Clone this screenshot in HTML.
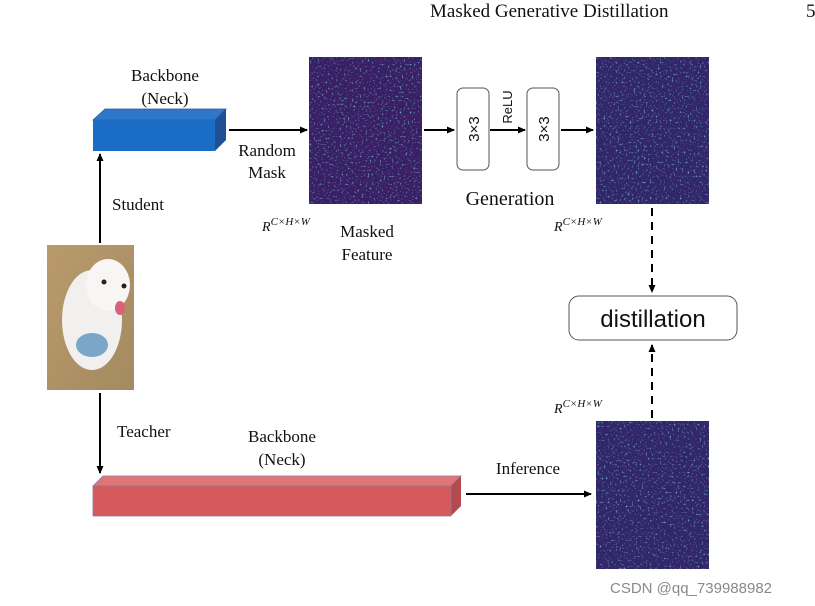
<!DOCTYPE html>
<html><head><meta charset="utf-8"><style>
html,body{margin:0;padding:0;background:#fff;width:815px;height:606px;overflow:hidden}
svg{display:block}
.s{font-family:"Liberation Serif",serif;fill:#111}
.a{font-family:"Liberation Sans",sans-serif;fill:#111}
</style></head><body>
<svg width="815" height="606" viewBox="0 0 815 606" xmlns="http://www.w3.org/2000/svg">
<defs>
<marker id="ah" markerWidth="8" markerHeight="8" refX="7" refY="4" orient="auto" markerUnits="userSpaceOnUse"><path d="M0,0.5 L8,4 L0,7.5 z" fill="#000"/></marker>
<filter id="noise" x="0" y="0" width="100%" height="100%">
<feTurbulence type="fractalNoise" baseFrequency="0.5" numOctaves="2" seed="3" result="t"/>
<feColorMatrix in="t" type="matrix" values="0 0 0 0 0.15  0 0 0 0 0.5  0 0 0 0 0.55  0 0 0 4 -2.4" result="c"/>
<feComposite in="c" in2="SourceGraphic" operator="in"/>
</filter>
<linearGradient id="dogbg" x1="0" y1="0" x2="1" y2="1"><stop offset="0" stop-color="#b89a6c"/><stop offset="1" stop-color="#a58a60"/></linearGradient>
</defs>
<text x="430" y="17" class="s" font-size="19" fill="#333">Masked Generative Distillation</text>
<text x="806" y="17" class="s" font-size="19" fill="#333">5</text>

<polygon points="93,120 105,109 226,109 215,120" fill="#2e78c9" stroke="#2a5a9a" stroke-width="0.8"/>
<polygon points="215,120 226,109 226,140 215,151" fill="#1f4f95"/>
<rect x="93" y="120" width="122" height="31" fill="#1b6cc4"/>
<text x="165" y="81" class="s" font-size="17" text-anchor="middle">Backbone</text>
<text x="165" y="104" class="s" font-size="17" text-anchor="middle">(Neck)</text>

<line x1="229" y1="130" x2="307" y2="130" stroke="#000" stroke-width="2" marker-end="url(#ah)"/>
<text x="267" y="156" class="s" font-size="17" text-anchor="middle">Random</text>
<text x="267" y="178" class="s" font-size="17" text-anchor="middle">Mask</text>

<rect x="309" y="57" width="113" height="147" fill="#3a1f66"/>
<rect x="309" y="57" width="113" height="147" fill="#fff" filter="url(#noise)"/>
<text x="262" y="231" class="s" font-size="14" font-style="italic">R<tspan dy="-6" font-size="11">C×H×W</tspan></text>
<text x="367" y="237" class="s" font-size="17" text-anchor="middle">Masked</text>
<text x="367" y="260" class="s" font-size="17" text-anchor="middle">Feature</text>

<line x1="424" y1="130" x2="454" y2="130" stroke="#000" stroke-width="2" marker-end="url(#ah)"/>
<rect x="457" y="88" width="32" height="82" rx="6" fill="#fff" stroke="#555" stroke-width="1"/>
<text transform="translate(479,129) rotate(-90)" class="a" font-size="15" text-anchor="middle">3×3</text>
<line x1="490" y1="130" x2="525" y2="130" stroke="#000" stroke-width="2" marker-end="url(#ah)"/>
<text transform="translate(512,107) rotate(-90)" class="a" font-size="13" text-anchor="middle">ReLU</text>
<rect x="527" y="88" width="32" height="82" rx="6" fill="#fff" stroke="#555" stroke-width="1"/>
<text transform="translate(549,129) rotate(-90)" class="a" font-size="15" text-anchor="middle">3×3</text>
<line x1="561" y1="130" x2="593" y2="130" stroke="#000" stroke-width="2" marker-end="url(#ah)"/>
<text x="510" y="205" class="s" font-size="20" text-anchor="middle">Generation</text>

<rect x="596" y="57" width="113" height="147" fill="#33256a"/>
<rect x="596" y="57" width="113" height="147" fill="#fff" filter="url(#noise)"/>
<text x="554" y="231" class="s" font-size="14" font-style="italic">R<tspan dy="-6" font-size="11">C×H×W</tspan></text>

<line x1="652" y1="208" x2="652" y2="292" stroke="#000" stroke-width="2" stroke-dasharray="8,6" marker-end="url(#ah)"/>
<rect x="569" y="296" width="168" height="44" rx="10" fill="#fff" stroke="#555" stroke-width="1"/>
<text x="653" y="327" class="a" font-size="24" text-anchor="middle">distillation</text>
<line x1="652" y1="418" x2="652" y2="345" stroke="#000" stroke-width="2" stroke-dasharray="8,6" marker-end="url(#ah)"/>
<text x="554" y="413" class="s" font-size="14" font-style="italic">R<tspan dy="-6" font-size="11">C×H×W</tspan></text>

<rect x="596" y="421" width="113" height="148" fill="#33256a"/>
<rect x="596" y="421" width="113" height="148" fill="#fff" filter="url(#noise)"/>

<rect x="47" y="245" width="87" height="145" fill="url(#dogbg)"/>
<ellipse cx="92" cy="320" rx="30" ry="50" fill="#f2f0ee"/>
<ellipse cx="108" cy="285" rx="22" ry="26" fill="#f7f6f4"/>
<ellipse cx="92" cy="345" rx="16" ry="12" fill="#7aa6c8"/>
<ellipse cx="120" cy="308" rx="5" ry="7" fill="#d8607a"/>
<circle cx="104" cy="282" r="2.5" fill="#222"/><circle cx="124" cy="286" r="2.5" fill="#222"/>

<line x1="100" y1="243" x2="100" y2="154" stroke="#000" stroke-width="2" marker-end="url(#ah)"/>
<text x="112" y="210" class="s" font-size="17">Student</text>
<line x1="100" y1="393" x2="100" y2="473" stroke="#000" stroke-width="2" marker-end="url(#ah)"/>
<text x="117" y="437" class="s" font-size="17">Teacher</text>

<polygon points="93,486 103,476 461,476 451,486" fill="#e07575" stroke="#8a7aa0" stroke-width="0.8"/>
<polygon points="451,486 461,476 461,506 451,516" fill="#b24a4e"/>
<rect x="93" y="486" width="358" height="30" fill="#d65a5c" stroke="#8a7aa0" stroke-width="0.8"/>
<text x="282" y="442" class="s" font-size="17" text-anchor="middle">Backbone</text>
<text x="282" y="465" class="s" font-size="17" text-anchor="middle">(Neck)</text>

<line x1="466" y1="494" x2="591" y2="494" stroke="#000" stroke-width="2" marker-end="url(#ah)"/>
<text x="528" y="474" class="s" font-size="17" text-anchor="middle">Inference</text>

<text x="610" y="593" class="a" font-size="15" style="fill:#8a8a8a">CSDN @qq_739988982</text>
</svg>
</body></html>
